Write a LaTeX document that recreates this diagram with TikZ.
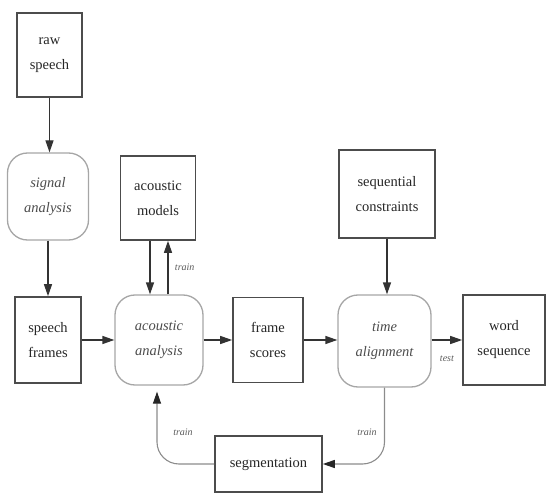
\documentclass[tikz,border=0pt]{standalone}
\usepackage{fontspec}
\setmainfont{Liberation Serif}
\usetikzlibrary{arrows.meta}
\begin{document}
\begin{tikzpicture}[x=1pt,y=-1pt,
  box/.style={draw=black!70,line width=1.6pt,align=center,inner sep=0pt,
    font=\fontsize{14.5}{25}\selectfont,text=black!85},
  rbox/.style={draw=black!35,line width=1.3pt,rounded corners=20pt,align=center,inner sep=0pt,
    font=\fontsize{14.5}{25}\selectfont\itshape,text=black!70},
  arr/.style={draw=black!80,line width=1.3pt,-{Triangle[length=12pt,width=8pt]}},
  fb/.style={draw=black!45,line width=1.1pt,rounded corners=22pt,
    -{Triangle[length=12pt,width=8pt,color=black!85]}},
  lbl/.style={font=\fontsize{10}{11}\selectfont\itshape,text=black!65}]
\useasboundingbox (0,0) rectangle (547,495);
\node[box,minimum width=65pt,minimum height=84pt] (raw) at (49.5,55) {raw\\speech};
\node[rbox,minimum width=81pt,minimum height=87pt] (sig) at (48,196.5) {signal\\analysis};
\node[box,minimum width=75pt,minimum height=84pt] (am) at (158,198) {acoustic\\models};
\node[box,minimum width=96pt,minimum height=88pt] (sc) at (387,194) {sequential\\constraints};
\node[box,minimum width=66pt,minimum height=86pt] (sf) at (48,340) {speech\\frames};
\node[rbox,minimum width=88pt,minimum height=90pt] (aa) at (159,340) {acoustic\\analysis};
\node[box,minimum width=70pt,minimum height=85pt] (fs) at (268,340) {frame\\scores};
\node[rbox,minimum width=93pt,minimum height=92pt] (ta) at (384.5,341) {time\\alignment};
\node[box,minimum width=82pt,minimum height=90pt] (ws) at (504,340) {word\\sequence};
\node[box,minimum width=107pt,minimum height=56pt] (seg) at (268.5,464) {segmentation};
\draw[arr] (raw.south) -- (raw.south |- sig.north);
\draw[arr] (sig.south) -- (sig.south |- sf.north);
\draw[arr] ([xshift=-8pt]am.south) -- ([xshift=-8pt]am.south |- aa.north);
\draw[arr] ([xshift=10pt]am.south |- aa.north) -- ([xshift=10pt]am.south)
  node[lbl,pos=0.5,right=3pt] (t1) {train};
\draw[arr] (sc.south) -- (sc.south |- ta.north);
\draw[arr] (sf.east) -- (sf.east -| aa.west);
\draw[arr] (aa.east) -- (aa.east -| fs.west);
\draw[arr] (fs.east) -- (fs.east -| ta.west);
\draw[arr] (ws.west -| ta.east) -- (ws.west) node[lbl,midway,below=12pt] (t2) {test};
\draw[fb,shorten >=6pt] (seg.west) -| ([xshift=-2pt]aa.south);
\draw[fb] (ta.south) |- (seg.east);
\node[lbl] (t3) at (183,432) {train};
\node[lbl] (t4) at (367,432) {train};
\end{tikzpicture}
\end{document}
